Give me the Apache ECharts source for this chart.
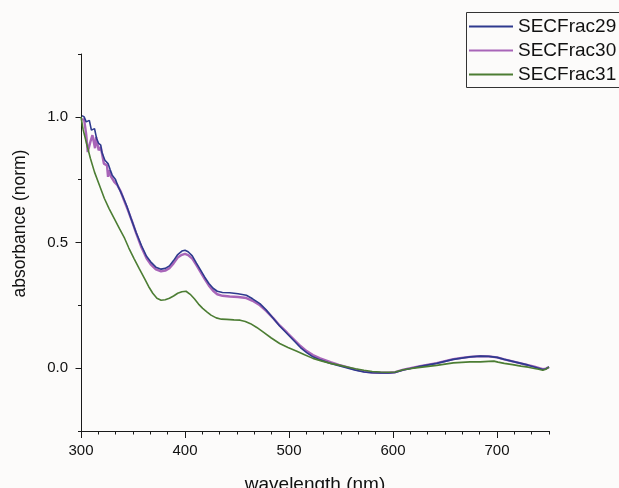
<!DOCTYPE html>
<html>
<head>
<meta charset="utf-8">
<script src="https://cdn.jsdelivr.net/npm/echarts@6/dist/echarts.min.js"></script>
<style>
html,body{margin:0;padding:0;background:#fcfbfa;}
#chart{width:619px;height:488px;}
</style>
</head>
<body>
<div id="chart"></div>
<script>
// ---- data ----
const seriesNames = ['SECFrac29', 'SECFrac30', 'SECFrac31'];

const wl29 = [301,303,305,308,310,313,315,317,319,320,323,326,328,330,333,336,340,344,348,353,358,363,367,372,377,381,385,389,393,397,400,403,407,411,415,419,423,427,431,436,443,451,459,465,472,478,485,491,498,505,511,517,523,530,540,548,556,564,572,580,588,596,602,610,618,626,634,642,650,658,666,674,684,692,700,707,715,723,730,736,740,744,747,750];
const abs29 = [1.005,1.0,0.98,0.986,0.947,0.953,0.914,0.894,0.887,0.86,0.827,0.814,0.79,0.768,0.752,0.72,0.685,0.645,0.597,0.54,0.489,0.445,0.423,0.402,0.394,0.397,0.407,0.428,0.452,0.466,0.469,0.463,0.447,0.418,0.39,0.362,0.337,0.318,0.306,0.301,0.30,0.296,0.29,0.276,0.257,0.232,0.198,0.168,0.138,0.108,0.082,0.062,0.045,0.033,0.019,0.01,0.001,-0.008,-0.015,-0.018,-0.019,-0.019,-0.017,-0.007,0.0,0.007,0.013,0.019,0.027,0.035,0.04,0.045,0.048,0.047,0.043,0.035,0.027,0.019,0.012,0.005,0.0,-0.005,-0.003,0.005];

const wl30 = [301,303,305,306.5,309,311,313.5,314.5,317,319,322,325,326,327,329,332,335,338,341,345,349,353,358,363,367,372,377,381,385,389,393,397,400,403,407,411,415,419,423,427,431,436,443,451,459,465,472,478,485,491,498,505,511,517,523,530,540,548,556,564,572,580,588,596,602,610,618,626,634,642,650,658,666,674,684,692,700,707,715,723,730,736,740,744,747,750];
const abs30 = [0.99,0.99,0.93,0.86,0.9,0.927,0.875,0.92,0.867,0.88,0.814,0.807,0.761,0.788,0.761,0.741,0.728,0.705,0.672,0.63,0.585,0.537,0.482,0.437,0.413,0.393,0.385,0.388,0.398,0.417,0.44,0.451,0.455,0.45,0.436,0.41,0.382,0.354,0.328,0.308,0.294,0.288,0.285,0.283,0.279,0.268,0.25,0.228,0.198,0.17,0.142,0.113,0.088,0.068,0.052,0.039,0.024,0.013,0.004,-0.006,-0.013,-0.017,-0.018,-0.018,-0.016,-0.006,0.001,0.008,0.014,0.02,0.028,0.036,0.041,0.045,0.048,0.047,0.043,0.035,0.027,0.019,0.012,0.006,0.001,-0.004,-0.002,0.004];

const wl31 = [300,302,305,309,313,318,322.5,327,332,337,342,346,351,356,361,365,369,373,377,381,385,389,393,397,401,405,409,413,417,421,425,430,435,440,447,453,458,463,469,475,483,491,499,507,515,523,531,540,548,556,564,572,580,588,596,602,610,618,626,634,642,650,658,666,674,684,692,697,701,707,715,723,730,736,740,744,747,750];
const abs31 = [1.0,0.95,0.9,0.835,0.78,0.725,0.675,0.635,0.595,0.555,0.516,0.478,0.436,0.396,0.357,0.325,0.298,0.278,0.27,0.272,0.278,0.287,0.298,0.304,0.306,0.294,0.276,0.255,0.238,0.224,0.211,0.2,0.195,0.194,0.192,0.191,0.186,0.177,0.162,0.144,0.12,0.098,0.082,0.068,0.053,0.039,0.029,0.019,0.012,0.005,-0.002,-0.008,-0.013,-0.015,-0.016,-0.015,-0.006,-0.001,0.003,0.007,0.011,0.016,0.021,0.023,0.025,0.025,0.027,0.028,0.024,0.019,0.014,0.008,0.004,-0.001,-0.004,-0.008,-0.004,0.004];

const xTickLabels = [300, 400, 500, 600, 700];
const yTickLabels = [0, 0.5, 1.0];

// ---- chart ----
function pairs(xs, ys) { return xs.map((x, i) => [x, ys[i]]); }

const font = 'Liberation Sans, Arial, sans-serif';
const axisColor = '#1a1a1a';

const chart = echarts.init(document.getElementById('chart'), null, { renderer: 'canvas' });
chart.setOption({
  backgroundColor: '#fcfbfa',
  animation: false,
  grid: { left: 81, right: 70, top: 54, bottom: 57, containLabel: false, outerBoundsMode: 'none' },
  graphic: [
    { type: 'rect', x: 0, y: 0, z: 100, silent: true,
      shape: { x: 466.5, y: 12.5, width: 200, height: 75 },
      style: { fill: 'none', stroke: '#333', lineWidth: 1 } }
  ],
  legend: {
    orient: 'vertical',
    left: 467, top: 12,
    borderWidth: 0,
    padding: [5, 10, 4, 2],
    itemWidth: 44, itemHeight: 2, itemGap: 5,
    icon: 'rect',
    textStyle: { fontFamily: font, fontSize: 19, color: '#111' },
    data: seriesNames
  },
  xAxis: [
    {
      type: 'value', min: 300, max: 750, interval: 100,
      name: 'wavelength (nm)', nameLocation: 'middle', nameGap: 44,
      nameTextStyle: { fontFamily: font, fontSize: 19, color: '#111' },
      axisLine: { show: true, onZero: false, lineStyle: { color: axisColor, width: 1 } },
      axisTick: { show: true, inside: false, length: 7, customValues: xTickLabels, lineStyle: { color: axisColor } },
      axisLabel: { customValues: xTickLabels, margin: 12, fontFamily: font, fontSize: 15, color: '#111' },
      splitLine: { show: false }
    },
    {
      type: 'value', min: 300, max: 750, interval: 50, position: 'bottom',
      axisLine: { show: false, onZero: false },
      axisTick: { show: true, length: 3.5, lineStyle: { color: axisColor } },
      minorTick: { show: true, splitNumber: 3, length: 3.5, lineStyle: { color: axisColor } },
      axisLabel: { show: false },
      splitLine: { show: false }
    }
  ],
  yAxis: [
    {
      type: 'value', min: -0.25, max: 1.25,
      name: 'absorbance (norm)', nameLocation: 'middle', nameGap: 52,
      nameTextStyle: { fontFamily: font, fontSize: 17.5, color: '#111', padding: [0, 0, 0, 38] },
      axisLine: { show: true, onZero: false, lineStyle: { color: axisColor, width: 1 } },
      axisTick: { show: true, length: 5.5, customValues: yTickLabels, lineStyle: { color: axisColor } },
      axisLabel: { customValues: yTickLabels, margin: 13, fontFamily: font, fontSize: 15, color: '#111',
                   formatter: v => Number(v).toFixed(1) },
      splitLine: { show: false }
    },
    {
      type: 'value', min: -0.25, max: 1.25, interval: 0.25, position: 'left',
      axisLine: { show: false, onZero: false },
      axisTick: { show: true, length: 3, lineStyle: { color: axisColor } },
      axisLabel: { show: false },
      splitLine: { show: false }
    }
  ],
  series: [
    { name: seriesNames[0], type: 'line', data: pairs(wl29, abs29), showSymbol: false, symbol: 'none',
      lineStyle: { color: '#2e3a8e', width: 1.6 }, itemStyle: { color: '#2e3a8e' }, z: 2 },
    { name: seriesNames[1], type: 'line', data: pairs(wl30, abs30), showSymbol: false, symbol: 'none',
      lineStyle: { color: '#a865b8', width: 2.4 }, itemStyle: { color: '#a865b8' }, z: 1 },
    { name: seriesNames[2], type: 'line', data: pairs(wl31, abs31), showSymbol: false, symbol: 'none',
      lineStyle: { color: '#4c7d33', width: 1.6 }, itemStyle: { color: '#4c7d33' }, z: 3 }
  ]
});
</script>
</body>
</html>
